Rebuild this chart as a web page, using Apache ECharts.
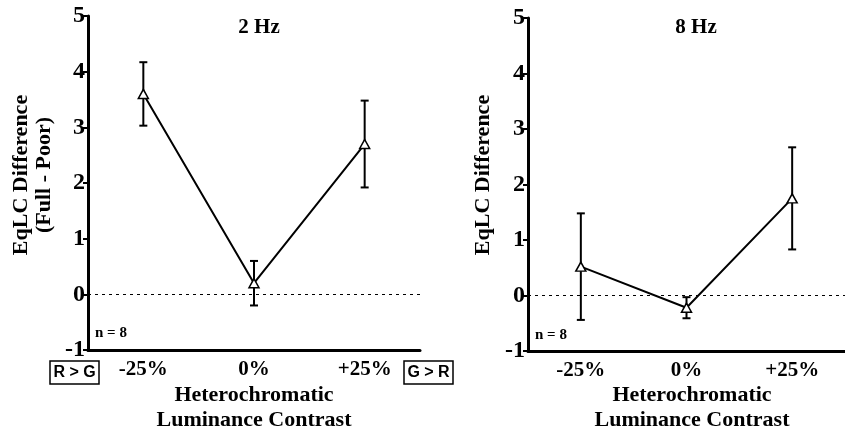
<!DOCTYPE html>
<html>
<head>
    <meta charset="utf-8">
    <title>EqLC Difference</title>
    <script src="https://cdn.jsdelivr.net/npm/echarts@6/dist/echarts.min.js"></script>
    <style>
        html, body { margin: 0; padding: 0; background: #fff; }
        #main { width: 845px; height: 436px; }
    </style>
</head>
<body>
<div id="main"></div>
<script type="text/javascript">
    // 数据
    var categories = ['-25%', '0%', '+25%'];
    var yTicks = [-1, 0, 1, 2, 3, 4, 5];
    var mean2Hz = [3.60, 0.20, 2.70];
    var err2Hz = [0.57, 0.40, 0.78];
    var mean8Hz = [0.52, -0.22, 1.75];
    var err8Hz = [0.96, 0.19, 0.92];

    var serif = '"Liberation Serif", "DejaVu Serif", serif';
    var sans = '"Liberation Sans", Arial, sans-serif';

    function errData(means, errs) {
        var out = [];
        for (var i = 0; i < means.length; i++) {
            out.push([i, means[i] - errs[i], means[i] + errs[i]]);
        }
        return out;
    }

    function renderErr(params, api) {
        var lo = api.coord([api.value(0), api.value(1)]);
        var hi = api.coord([api.value(0), api.value(2)]);
        var cap = 4;
        var st = { stroke: '#000', lineWidth: 2 };
        return {
            type: 'group',
            children: [
                { type: 'line', shape: { x1: lo[0], y1: lo[1], x2: hi[0], y2: hi[1] }, style: st },
                { type: 'line', shape: { x1: lo[0] - cap, y1: lo[1], x2: lo[0] + cap, y2: lo[1] }, style: st },
                { type: 'line', shape: { x1: hi[0] - cap, y1: hi[1], x2: hi[0] + cap, y2: hi[1] }, style: st }
            ]
        };
    }

    function xAxis(idx) {
        return {
            type: 'category',
            gridIndex: idx,
            data: categories,
            boundaryGap: true,
            axisLine: { onZero: false, lineStyle: { color: '#000', width: 3 } },
            axisTick: { alignWithLabel: true, length: 6, lineStyle: { color: '#000', width: 2 } },
            axisLabel: { color: '#000', fontFamily: serif, fontWeight: 'bold', fontSize: 21, margin: 9 },
            splitLine: { show: false }
        };
    }

    function yAxis(idx) {
        return {
            type: 'value',
            gridIndex: idx,
            min: yTicks[0],
            max: yTicks[yTicks.length - 1],
            interval: 1,
            axisLine: { show: true, lineStyle: { color: '#000', width: 3 } },
            axisTick: { show: true, length: 5, lineStyle: { color: '#000', width: 2 } },
            axisLabel: { color: '#000', fontFamily: serif, fontWeight: 'bold', fontSize: 24, margin: 3 },
            splitLine: { show: false }
        };
    }

    function lineSeries(idx, data) {
        return {
            type: 'line',
            xAxisIndex: idx,
            yAxisIndex: idx,
            data: data,
            symbol: 'triangle',
            symbolSize: [10, 9],
            z: 5,
            lineStyle: { color: '#000', width: 2 },
            itemStyle: { color: '#fff', borderColor: '#000', borderWidth: 1.5 },
            markLine: {
                silent: true,
                symbol: 'none',
                label: { show: false },
                lineStyle: { color: '#000', type: [3, 4], width: 1 },
                data: [{ yAxis: 0 }]
            }
        };
    }

    var chart = echarts.init(document.getElementById('main'));
    var option = {
        backgroundColor: '#fff',
        animation: false,
        title: [
            { text: '2 Hz', left: 254, top: 12, textAlign: 'center',
              textStyle: { fontFamily: serif, fontWeight: 'bold', fontSize: 21, color: '#000' } },
            { text: '8 Hz', left: 691, top: 12, textAlign: 'center',
              textStyle: { fontFamily: serif, fontWeight: 'bold', fontSize: 21, color: '#000' } }
        ],
        grid: [
            { left: 88, top: 16, width: 332, height: 334 },
            { left: 528, top: 18, width: 333, height: 333 }
        ],
        xAxis: [xAxis(0), xAxis(1)],
        yAxis: [yAxis(0), yAxis(1)],
        series: [
            lineSeries(0, mean2Hz),
            { type: 'custom', xAxisIndex: 0, yAxisIndex: 0, renderItem: renderErr,
              data: errData(mean2Hz, err2Hz), z: 3 },
            lineSeries(1, mean8Hz),
            { type: 'custom', xAxisIndex: 1, yAxisIndex: 1, renderItem: renderErr,
              data: errData(mean8Hz, err8Hz), z: 3 }
        ],
        graphic: [
            // y 轴标题
            { type: 'text', x: 21, y: 175, rotation: Math.PI / 2,
              style: { text: 'EqLC Difference', fontFamily: serif, fontWeight: 'bold', fontSize: 22,
                       fill: '#000', align: 'center', verticalAlign: 'middle' } },
            { type: 'text', x: 44, y: 175, rotation: Math.PI / 2,
              style: { text: '(Full - Poor)', fontFamily: serif, fontWeight: 'bold', fontSize: 22,
                       fill: '#000', align: 'center', verticalAlign: 'middle' } },
            { type: 'text', x: 483, y: 175, rotation: Math.PI / 2,
              style: { text: 'EqLC Difference', fontFamily: serif, fontWeight: 'bold', fontSize: 22,
                       fill: '#000', align: 'center', verticalAlign: 'middle' } },
            // x 轴标题
            { type: 'text', x: 254, y: 408,
              style: { text: 'Heterochromatic\nLuminance Contrast', fontFamily: serif, fontWeight: 'bold',
                       fontSize: 22, lineHeight: 25, fill: '#000', align: 'center', verticalAlign: 'middle' } },
            { type: 'text', x: 692, y: 408,
              style: { text: 'Heterochromatic\nLuminance Contrast', fontFamily: serif, fontWeight: 'bold',
                       fontSize: 22, lineHeight: 25, fill: '#000', align: 'center', verticalAlign: 'middle' } },
            // n = 8
            { type: 'text', x: 95, y: 333,
              style: { text: 'n = 8', fontFamily: serif, fontWeight: 'bold', fontSize: 15,
                       fill: '#000', verticalAlign: 'middle' } },
            { type: 'text', x: 535, y: 335,
              style: { text: 'n = 8', fontFamily: serif, fontWeight: 'bold', fontSize: 15,
                       fill: '#000', verticalAlign: 'middle' } },
            // R > G / G > R 方框
            { type: 'rect', shape: { x: 50, y: 361, width: 49, height: 23 },
              style: { fill: '#fff', stroke: '#000', lineWidth: 1.5 } },
            { type: 'text', x: 74.5, y: 373,
              style: { text: 'R > G', fontFamily: sans, fontWeight: 'bold', fontSize: 16, fill: '#000',
                       align: 'center', verticalAlign: 'middle' } },
            { type: 'rect', shape: { x: 404, y: 361, width: 49, height: 23 },
              style: { fill: '#fff', stroke: '#000', lineWidth: 1.5 } },
            { type: 'text', x: 428.5, y: 373,
              style: { text: 'G > R', fontFamily: sans, fontWeight: 'bold', fontSize: 16, fill: '#000',
                       align: 'center', verticalAlign: 'middle' } }
        ]
    };
    chart.setOption(option);
</script>
</body>
</html>
